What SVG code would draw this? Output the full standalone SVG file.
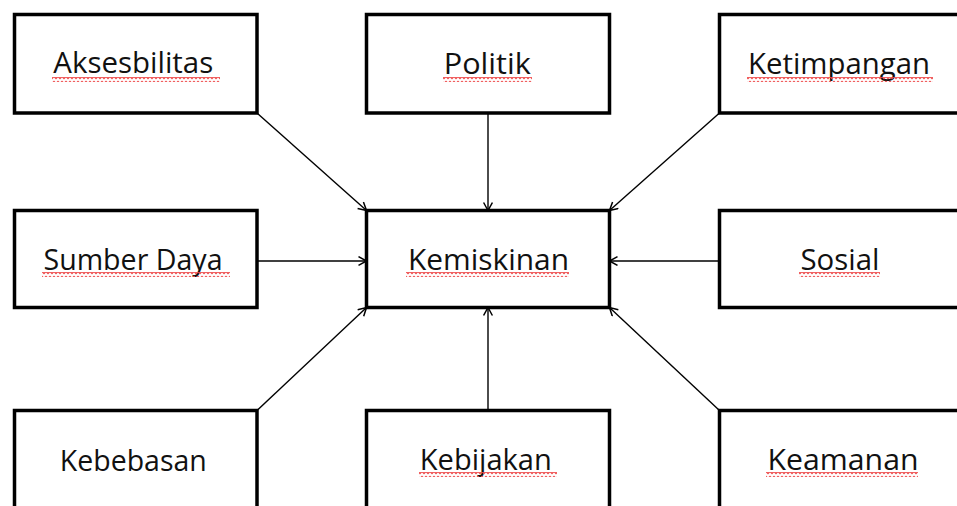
<svg xmlns="http://www.w3.org/2000/svg" width="957" height="506" viewBox="0 0 957 506">
  <style>
    .box { fill: #ffffff; stroke: #000000; stroke-width: 3.5; }
    .lbl { font-family: "Open Sans", "Liberation Sans", sans-serif; font-size: 29px; fill: #111111; text-anchor: middle; }
    .conn { stroke: #000000; stroke-width: 1.4; fill: none; }
    .sq { fill: url(#squig); }
  </style>
  <defs>
    <marker id="arr" markerUnits="userSpaceOnUse" markerWidth="12" markerHeight="12" refX="9" refY="5" orient="auto">
      <path d="M1,0.6 L9,5 L1,9.4" fill="none" stroke="#000000" stroke-width="1.5"/>
    </marker>
    <pattern id="squig" patternUnits="userSpaceOnUse" width="4" height="5">
      <path d="M-2,1.5 L0,3.5 L2,1.5 L4,3.5 L6,1.5" fill="none" stroke="#ee4a4a" stroke-width="1.3"/>
    </pattern>
  </defs>
  <rect width="957" height="506" fill="#ffffff"/>

  <g id="connectors">
    <line class="conn" x1="257" y1="113" x2="366.5" y2="210.5" marker-end="url(#arr)"/>
    <line class="conn" x1="488" y1="113" x2="488" y2="210.5" marker-end="url(#arr)"/>
    <line class="conn" x1="719.5" y1="113" x2="609.5" y2="210.5" marker-end="url(#arr)"/>
    <line class="conn" x1="257" y1="261" x2="366.5" y2="261" marker-end="url(#arr)"/>
    <line class="conn" x1="719.5" y1="261" x2="609.5" y2="261" marker-end="url(#arr)"/>
    <line class="conn" x1="257" y1="410.5" x2="366.5" y2="307.5" marker-end="url(#arr)"/>
    <line class="conn" x1="488" y1="410.5" x2="488" y2="307.5" marker-end="url(#arr)"/>
    <line class="conn" x1="719.5" y1="410.5" x2="609.5" y2="307.5" marker-end="url(#arr)"/>
  </g>

  <g id="aksesbilitas">
    <rect class="box" x="14.5" y="14.5" width="242.5" height="98.5"/>
    <text class="lbl" x="133.3" y="73" textLength="160" lengthAdjust="spacingAndGlyphs">Aksesbilitas</text>
    <rect class="sq" x="52" y="77" width="168" height="5"/>
  </g>
  <g id="politik">
    <rect class="box" x="366.5" y="14.5" width="243" height="98.5"/>
    <text class="lbl" x="487.3" y="73.5" textLength="87" lengthAdjust="spacingAndGlyphs">Politik</text>
    <rect class="sq" x="443" y="77" width="89" height="5"/>
  </g>
  <g id="ketimpangan">
    <rect class="box" x="719.5" y="14.5" width="243" height="98.5"/>
    <text class="lbl" x="839" y="73.5" textLength="182" lengthAdjust="spacingAndGlyphs">Ketimpangan</text>
    <rect class="sq" x="747" y="77" width="186" height="5"/>
  </g>
  <g id="sumber-daya">
    <rect class="box" x="14.5" y="210.5" width="242.5" height="97"/>
    <text class="lbl" x="133" y="269.5" textLength="179" lengthAdjust="spacingAndGlyphs">Sumber Daya</text>
    <rect class="sq" x="42" y="272" width="188" height="5"/>
  </g>
  <g id="kemiskinan">
    <rect class="box" x="366.5" y="210.5" width="243" height="97"/>
    <text class="lbl" x="488.5" y="269.5" textLength="161" lengthAdjust="spacingAndGlyphs">Kemiskinan</text>
    <rect class="sq" x="406" y="272" width="163" height="5"/>
  </g>
  <g id="sosial">
    <rect class="box" x="719.5" y="210.5" width="243" height="97"/>
    <text class="lbl" x="840" y="269.5" textLength="79" lengthAdjust="spacingAndGlyphs">Sosial</text>
    <rect class="sq" x="799" y="272" width="81" height="5"/>
  </g>
  <g id="kebebasan">
    <rect class="box" x="14.5" y="410.5" width="242.5" height="120"/>
    <text class="lbl" x="133.3" y="470.5" textLength="147" lengthAdjust="spacingAndGlyphs">Kebebasan</text>
  </g>
  <g id="kebijakan">
    <rect class="box" x="366.5" y="410.5" width="243" height="120"/>
    <text class="lbl" x="485.8" y="470" textLength="132" lengthAdjust="spacingAndGlyphs">Kebijakan</text>
    <rect class="sq" x="419" y="472" width="138" height="5"/>
  </g>
  <g id="keamanan">
    <rect class="box" x="719.5" y="410.5" width="243" height="120"/>
    <text class="lbl" x="843" y="470" textLength="151" lengthAdjust="spacingAndGlyphs">Keamanan</text>
    <rect class="sq" x="766" y="472" width="152" height="5"/>
  </g>
</svg>
